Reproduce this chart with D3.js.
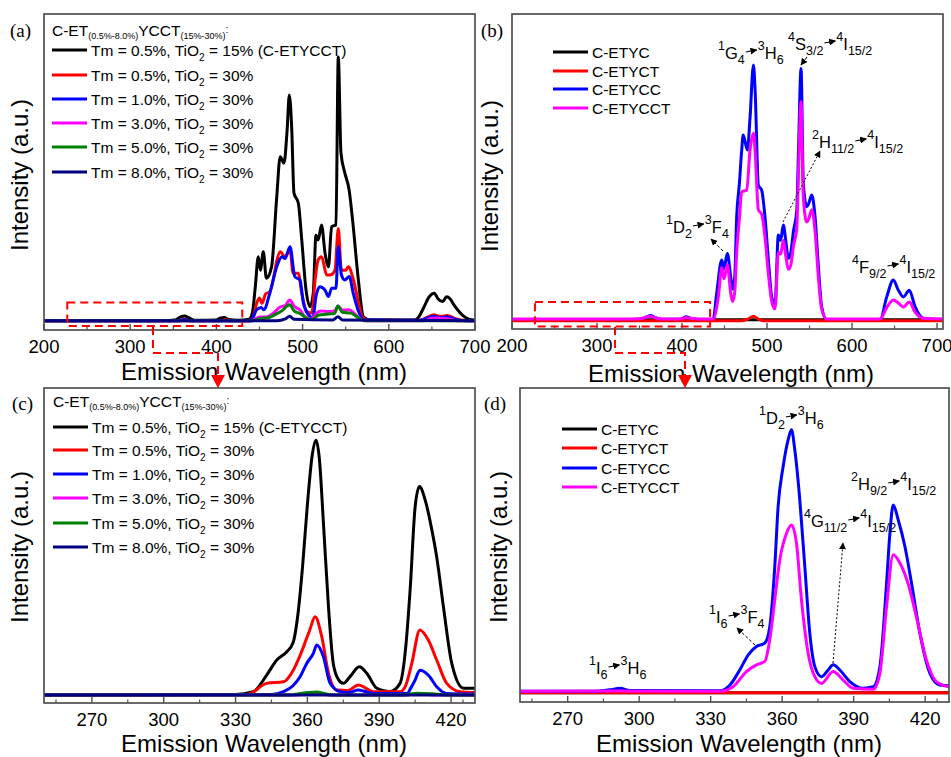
<!DOCTYPE html>
<html>
<head>
<meta charset="utf-8">
<script src="https://d3js.org/d3.v7.min.js"></script>
<title>Upconversion emission spectra</title>
<style>
  body { margin: 0; background: #fff; }
  svg text { font-family: "Liberation Sans", Arial, sans-serif; fill: #000; }
  .frame { fill: none; stroke: #505050; stroke-width: 1.7; }
  .tick-label { font-size: 18.5px; text-anchor: middle; }
  .axis-title { font-size: 24px; }
  .panel-id { font-family: "Liberation Serif", "Times New Roman", serif; font-size: 19px; }
  .leg { font-size: 15.5px; }
  .spec { fill: none; stroke-width: 3; stroke-linejoin: round; }
</style>
</head>
<body>
<svg width="951" height="757"></svg>
<script>
// ---- legend / category data
const tmValues = ['0.5%', '0.5%', '1.0%', '3.0%', '5.0%', '8.0%'];
const tioValues = ['15% (C-ETYCCT)', '30%', '30%', '30%', '30%', '30%'];
const tmColors = ['#000000', '#ff0000', '#0000ff', '#ff00ff', '#008000', '#000080'];
const sampleNames = ['C-ETYC', 'C-ETYCT', 'C-ETYCC', 'C-ETYCCT'];
const sampleColors = ['#000000', '#ff0000', '#0000ff', '#ff00ff'];
const ticksWide = [200, 300, 400, 500, 600, 700];
const minorWide = [250, 350, 450, 550, 650];
const ticksUv = [270, 300, 330, 360, 390, 420];
const minorUv = [255, 285, 315, 345, 375, 405, 425];

// ---- (a) spectra, [wavelength nm, intensity a.u.]
const aBlack = [[200,0],[330,0],[352,0.3],[358,1.2],[363,1.6],[368,1.0],[375,0.2],[400,0.3],[405,0.9],[409,1.1],[414,0.4],[425,0.2],[438,0.5],[442,3],[445,10.7],[448.6,20.9],[451,16.5],[454.4,22.5],[458,13.9],[464,17.6],[470,40.4],[474,53.5],[478.4,51.4],[482,62],[484.6,73.6],[487.3,63.2],[490,41.6],[495,38.4],[499,26.4],[504,10],[508.6,4.6],[512.4,9.1],[515.5,27.9],[518,26.3],[522,31.2],[526,22.1],[530,17.6],[533.7,30.7],[538.7,31.2],[541.4,86],[544.5,54.7],[549,48.2],[554,42.6],[558,32.8],[564.7,13.3],[570.5,1.3],[578,0.3],[630,0.3],[634,1],[640,4],[646,7.5],[652.8,9],[657,7.2],[662.5,6.3],[667,7.8],[671,7.2],[676,5],[686,1.7],[694,0.4],[700,0.2]];
const aRed = [[200,0],[355,0],[363,0.5],[370,0],[405,0],[410,0.4],[415,0],[440,0],[443,1.5],[446.7,5.7],[450,7.4],[453,5.7],[457,8.7],[462,9.5],[467,15],[470,19.5],[474,22.5],[479.6,20.9],[485.4,23],[489,15.5],[495,15.5],[499,9],[505,3],[510.6,2.5],[514.5,13.3],[518,19.8],[522,20.9],[528,14.9],[533,15],[537.6,16.5],[541.4,30.1],[545,16.5],[550,16.5],[553,17.6],[559,13.3],[565,5.7],[570,1],[578,0.2],[636,0.2],[645,1.2],[652,2],[660,1.4],[668,1.7],[678,0.6],[690,0.1],[700,0]];
const aBlue = [[200,0],[355,0],[363,0.4],[370,0],[440,0],[443,1.5],[446.7,3.6],[452,4.3],[455,3.6],[462,9],[470,17.6],[476,20.9],[479.6,20.3],[485.4,24.1],[491,14.4],[497,13.3],[501,5.7],[507,1.9],[512,1],[515.5,7.9],[520,11.1],[526,10],[530,7.9],[533.7,10.6],[538.7,10.6],[541.4,24.1],[545,15],[549,13.3],[554,14.4],[559,8.7],[565,3],[571,0.3],[636,0.2],[645,0.9],[652,1.5],[660,1.0],[668,1.3],[678,0.4],[690,0],[700,0]];
const aMagenta = [[200,0],[440,0],[446,0.8],[452,1.2],[458,1.2],[466,2.5],[474,4.5],[480,5],[485,6.8],[490,4.8],[497,3.5],[503,1.2],[510,0.6],[516,2.5],[522,3.2],[530,3],[537,3.2],[541,4.8],[546,3.5],[554,3.6],[560,2.4],[566,0.8],[572,0],[640,0],[652,0.9],[668,0.7],[680,0],[700,0]];
const aGreen = [[200,0],[442,0],[450,0.7],[460,1],[468,2],[476,3.3],[485,5.2],[490,3.3],[498,2.2],[505,0.8],[512,0.5],[518,1.8],[530,2.2],[537,2.4],[541,4.8],[546,2.8],[556,2.5],[562,1.5],[568,0.4],[575,0],[700,0]];
const aNavy = [[200,0],[470,0],[480,0.6],[485,1.5],[490,0.5],[535,0.3],[541,1.3],[546,0.3],[700,0]];

// ---- (b) spectra
const bBlack = [[200,0],[707,0]];
const bRed = [[200,-0.3],[470,-0.3],[478,0.3],[484,1.2],[490,0.2],[496,-0.3],[707,-0.3]];
const bBlue = [[200,0],[340,0],[352,0.2],[358,0.9],[363,1.4],[368,0.8],[375,0.2],[398,0.2],[405,1.0],[410,0.5],[420,0.1],[436.5,0],[440.8,8.7],[446.7,19.6],[449.4,16.8],[453.3,21.7],[457.3,14],[459.5,10],[462,14],[464.3,33.7],[467.5,44.6],[470.2,55.5],[472,60.4],[476.9,55.5],[480,66],[484,83.3],[486,75],[489.8,44],[493.7,42.4],[497.6,33.7],[501.6,19.6],[505.5,7.5],[509.4,4.8],[513.3,27.7],[516,26],[519.2,31],[522,26],[525.1,20.1],[528,22],[531,28.8],[535,35.9],[537,55.5],[540,82.2],[542.7,44.6],[546.7,37],[549,38],[552.6,40.8],[556.5,33.7],[560.4,17.4],[564.3,4.3],[570.2,0],[633,0],[640.8,7.5],[648.6,13],[654.5,9.7],[660.4,7.5],[667.4,9.7],[674.1,4.3],[683.9,0.5],[707,0]];
const bMagenta = [[200,0.3],[340,0.3],[352,0.4],[358,0.9],[363,1.2],[368,0.7],[375,0.3],[398,0.3],[405,0.8],[410,0.5],[420,0.3],[436.5,0.3],[442.7,7.5],[446.7,17],[449.4,13.4],[453.3,18],[457.3,8.7],[459.5,6],[462,9],[464.3,22],[467.5,33],[470.2,41.9],[476.1,42.4],[480,55.5],[484,61],[486,55],[489.8,36],[493.7,34.5],[497.6,27],[501.6,15],[505.5,6],[509.4,3.5],[513.3,22],[516,21.5],[519.2,26],[522,21],[525.1,16.5],[528,18],[531,24],[535,30],[537,48],[540,71.3],[542.7,40],[546.7,32],[549,33],[552.6,36],[556.5,29],[560.4,14],[564.3,3.5],[570.2,0.3],[633,0.3],[640.8,4],[648.6,6.5],[654.5,5.5],[660.4,4.2],[667.4,5.8],[674.1,2.5],[683.9,0.5],[707,0.3]];

// ---- (c) spectra (UV-violet zoom of a)
const cBlack = [[250,0],[330,0.2],[337.4,1.1],[343,6.5],[347.2,11.4],[351.4,14.1],[354,17],[356,26],[358,42],[360,62],[362,78],[363.6,83],[365,77],[366.7,56],[368.8,28.8],[370.8,10.3],[373,5],[375,3.8],[377.8,6],[381.7,9.2],[384.8,7.1],[389,2.2],[394.5,1.1],[398.7,3.8],[401,15],[402.9,34.2],[405,61.3],[406.8,67.9],[409.2,63.5],[412,53.7],[414,45],[416.8,28.8],[420.3,10.3],[425.2,2.2],[430,2.2]];
const cRed = [[250,0],[335,0.2],[343,3.8],[350,4.3],[354.1,8.1],[357,13],[361,21.2],[363.2,25.5],[366,19],[368.8,7.1],[372.3,1.6],[377,1.5],[381.3,3.3],[387.6,1.1],[398.7,1.1],[401,3],[403.6,10.3],[407,21.2],[410.5,17.9],[414,11.4],[418.2,3.8],[423.8,1.1],[430,0.8]];
const cBlue = [[250,0],[345,0.2],[350,1.1],[354,3],[357,6],[359.7,10.3],[362.5,13.6],[363.9,16.3],[366.7,12.5],[369.5,3.8],[373.6,1.1],[377,0.8],[381.3,1.6],[387.6,0.5],[401.8,0.5],[403,2],[405,4.9],[407,8.1],[410.5,6.5],[414,2.7],[418.2,0.5],[430,0.3]];
const cMagenta = [[250,0],[355,0],[363,0.5],[370,0],[400,0],[407,0.4],[414,0],[430,0]];
const cGreen = [[250,0],[352,0],[360,0.8],[364,1.0],[370,0],[400,0],[406,0.6],[412,0.4],[418,0],[430,0]];
const cNavy = [[250,0],[430,0]];

// ---- (d) spectra
const dBlack = [[250,0],[430,0]];
const dRed = [[250,0],[430,0]];
const dBlue = [[250,0.5],[280,0.5],[287.7,1],[292,1.5],[296.1,0.8],[333.9,0.7],[338.1,2.6],[342.2,7.5],[345.7,12.4],[349.2,15.2],[352.7,16.3],[354.8,21.7],[356.9,41.4],[358.3,61.1],[360.4,74.2],[362.5,83],[363.9,86.3],[365.3,79.7],[367.4,63.3],[369.5,41.4],[371.6,19.5],[373.7,8.6],[376.5,5.3],[379.3,7.5],[381.4,9.2],[384.2,7.5],[388.4,3.7],[394,1.5],[398.2,2],[401,8.6],[403.8,35.9],[405.2,52.3],[406.6,61.6],[408.7,56.7],[411.5,48],[414.3,35.9],[417.8,19.5],[422,6.4],[426.1,2.6],[430,2.3]];
const dMagenta = [[250,0.5],[290,0.6],[333.9,0.5],[339.4,2],[345,7],[349.2,9.2],[352.7,10.3],[354.8,17.4],[356.9,30.5],[359,43.6],[361.8,52.3],[363.9,55.1],[366,49.1],[368.1,30.5],[370.9,13],[373.7,5.3],[376.5,3.1],[381.4,7],[385.6,4.2],[389.8,1.5],[398.2,1.2],[401,6.4],[403.8,28.3],[406.6,45.3],[409.4,42.6],[412.8,35.9],[416.3,25],[420.5,10.8],[424.7,3.7],[430,2]];

// zoomed windows marked in (a) and (b): wavelength and intensity ranges
const zoomWinA = { x: [227, 430], y: [-1.7, 6] };
const zoomWinB = { x: [227, 433], y: [-2.2, 5.8] };

const svg = d3.select('svg');

// marker for the little transition arrows
const defs = svg.append('defs');
defs.append('marker')
    .attr('id', 'tri')
    .attr('viewBox', '0 0 10 10')
    .attr('refX', 9).attr('refY', 5)
    .attr('markerWidth', 7).attr('markerHeight', 7)
    .attr('markerUnits', 'userSpaceOnUse')
    .attr('orient', 'auto')
  .append('path').attr('d', 'M0,0L10,5L0,10z').attr('fill', '#000');

// builds one panel: frame, scales, ticks, curves
function panel(id, box, xDom, yDom, series, colors, major, minor) {
  const x = d3.scaleLinear().domain(xDom).range([box.left, box.right]);
  const y = d3.scaleLinear().domain(yDom).range([box.bottom, box.top]);
  const g = svg.append('g');

  defs.append('clipPath').attr('id', 'clip-' + id)
    .append('rect')
      .attr('x', box.left).attr('y', box.top)
      .attr('width', box.right - box.left).attr('height', box.bottom - box.top);

  const line = d3.line()
      .x(d => x(d[0]))
      .y(d => y(d[1]))
      .curve(d3.curveMonotoneX);

  g.append('g').attr('clip-path', `url(#clip-${id})`)
    .selectAll('path').data(series)
    .enter().append('path')
      .attr('class', 'spec')
      .attr('stroke', (d, i) => colors[i])
      .attr('d', line);

  // inward ticks on the bottom edge only
  g.selectAll('.major').data(major).enter().append('line')
      .attr('x1', d => x(d)).attr('x2', d => x(d))
      .attr('y1', box.bottom).attr('y2', box.bottom - 6)
      .attr('stroke', '#505050').attr('stroke-width', 1.4);
  g.selectAll('.minor').data(minor).enter().append('line')
      .attr('x1', d => x(d)).attr('x2', d => x(d))
      .attr('y1', box.bottom).attr('y2', box.bottom - 3.5)
      .attr('stroke', '#505050').attr('stroke-width', 1.2);
  g.selectAll('.tick-label').data(major).enter().append('text')
      .attr('class', 'tick-label')
      .attr('x', d => x(d))
      .attr('y', box.bottom + 23)
      .text(d => d);

  g.append('rect')
      .attr('class', 'frame')
      .attr('x', box.left).attr('y', box.top)
      .attr('width', box.right - box.left).attr('height', box.bottom - box.top);

  return { g, x, y };
}

function titles(xt, yt) {
  svg.append('text').attr('class', 'axis-title')
      .attr('x', xt[0]).attr('y', xt[1])
      .attr('text-anchor', 'middle')
      .text('Emission Wavelength (nm)');
  svg.append('text').attr('class', 'axis-title')
      .attr('transform', `translate(${yt[0]},${yt[1]}) rotate(-90)`)
      .attr('text-anchor', 'middle')
      .text('Intensity (a.u.)');
}

// sequence of normal / sup / sub text pieces, '>' means the small arrow
function label(x, y, parts) {
  let cx = x;
  parts.forEach(p => {
    if (p === '>') {
      svg.append('line')
          .attr('x1', cx + 1).attr('y1', y - 7)
          .attr('x2', cx + 12).attr('y2', y - 9)
          .attr('stroke', '#000').attr('stroke-width', 1.2)
          .attr('marker-end', 'url(#tri)');
      cx += 13;
      return;
    }
    const k = p[1];
    const el = svg.append('text')
        .attr('x', cx)
        .attr('y', y + (k === 'sup' ? -9 : k === 'sub' ? 5 : 0))
        .style('font-size', k ? '12.5px' : '16.5px')
        .text(p[0]);
    cx += el.node().getComputedTextLength();
  });
}

function pointer(x1, y1, x2, y2, dash) {
  svg.append('line')
      .attr('x1', x1).attr('y1', y1).attr('x2', x2).attr('y2', y2)
      .attr('stroke', '#000').attr('stroke-width', 1)
      .attr('stroke-dasharray', dash)
      .attr('marker-end', 'url(#tri)');
}

function tmLegend(x0, titleY, rows) {
  const t = svg.append('text').attr('class', 'leg').attr('x', x0).attr('y', titleY);
  t.append('tspan').text('C-ET');
  t.append('tspan').attr('dy', 3).style('font-size', '9px').text('(0.5%-8.0%)');
  t.append('tspan').attr('dy', -3).text('YCCT');
  t.append('tspan').attr('dy', 3).style('font-size', '9px').text('(15%-30%)');
  t.append('tspan').attr('dy', -6).style('font-size', '10px').text(':');
  rows.forEach((ry, i) => {
    svg.append('line')
        .attr('x1', x0).attr('x2', x0 + 35).attr('y1', ry).attr('y2', ry)
        .attr('stroke', tmColors[i]).attr('stroke-width', 3);
    const s = svg.append('text').attr('class', 'leg').attr('x', x0 + 39).attr('y', ry + 5.5);
    s.append('tspan').text(`Tm = ${tmValues[i]}, TiO`);
    s.append('tspan').attr('dy', 5).style('font-size', '10px').text('2');
    s.append('tspan').attr('dy', -5).text(` = ${tioValues[i]}`);
  });
}

function sampleLegend(x0, rows) {
  rows.forEach((ry, i) => {
    svg.append('line')
        .attr('x1', x0).attr('x2', x0 + 35).attr('y1', ry).attr('y2', ry)
        .attr('stroke', sampleColors[i]).attr('stroke-width', 3);
    svg.append('text').attr('class', 'leg')
        .attr('x', x0 + 39).attr('y', ry + 5.5)
        .text(sampleNames[i]);
  });
}

// ---- panels
const boxA = { left: 44, right: 475, top: 14, bottom: 330 };
const boxB = { left: 512, right: 943, top: 14, bottom: 329 };
const boxC = { left: 44, right: 475, top: 388, bottom: 703 };
const boxD = { left: 520, right: 949, top: 388, bottom: 702 };

const pa = panel('a', boxA, [200, 700], [-3, 100],
  [aBlack, aRed, aBlue, aMagenta, aGreen, aNavy], tmColors, ticksWide, minorWide);
const pb = panel('b', boxB, [200, 707], [-3, 100],
  [bBlack, bBlue, bRed, bMagenta], [sampleColors[0], sampleColors[2], sampleColors[1], sampleColors[3]],
  ticksWide, minorWide);
const pc = panel('c', boxC, [250, 430], [-2.6, 100],
  [cBlack, cRed, cBlue, cMagenta, cGreen, cNavy], tmColors, ticksUv, minorUv);
const pd = panel('d', boxD, [250, 430], [-3, 100],
  [dBlack, dRed, dBlue, dMagenta], sampleColors, ticksUv, minorUv);

titles([264, 380], [28, 175]);
titles([731, 382], [498, 176]);
titles([264, 752], [28, 547]);
titles([739, 752], [507, 547]);

[['(a)', 10, 37], ['(b)', 481, 37], ['(c)', 12, 410], ['(d)', 484, 410]].forEach(p => {
  svg.append('text').attr('class', 'panel-id').attr('x', p[1]).attr('y', p[2]).text(p[0]);
});

tmLegend(52, 36, [50, 75, 99, 123, 147, 172]);
tmLegend(53, 407, [427, 450, 474, 498, 523, 547]);
sampleLegend(553, [52, 71, 89, 108]);
sampleLegend(562, [429, 448, 468, 487]);

// ---- transition labels in (b)
label(718, 59, [['1', 'sup'], ['G'], ['4', 'sub'], '>', ['3', 'sup'], ['H'], ['6', 'sub']]);
label(788, 50, [['4', 'sup'], ['S'], ['3/2', 'sub'], '>', ['4', 'sup'], ['I'], ['15/2', 'sub']]);
label(812, 148, [['2', 'sup'], ['H'], ['11/2', 'sub'], '>', ['4', 'sup'], ['I'], ['15/2', 'sub']]);
label(666, 233, [['1', 'sup'], ['D'], ['2', 'sub'], '>', ['3', 'sup'], ['F'], ['4', 'sub']]);
label(852, 273, [['4', 'sup'], ['F'], ['9/2', 'sub'], '>', ['4', 'sup'], ['I'], ['15/2', 'sub']]);
pointer(807, 57, 801, 65, null);
pointer(783, 222, 820, 151, '2,2');
pointer(723, 251, 711, 239, '3,2');

// ---- transition labels in (d)
label(759, 424, [['1', 'sup'], ['D'], ['2', 'sub'], '>', ['3', 'sup'], ['H'], ['6', 'sub']]);
label(804, 527, [['4', 'sup'], ['G'], ['11/2', 'sub'], '>', ['4', 'sup'], ['I'], ['15/2', 'sub']]);
label(851, 490, [['2', 'sup'], ['H'], ['9/2', 'sub'], '>', ['4', 'sup'], ['I'], ['15/2', 'sub']]);
label(709, 623, [['1', 'sup'], ['I'], ['6', 'sub'], '>', ['3', 'sup'], ['F'], ['4', 'sub']]);
label(589, 674, [['1', 'sup'], ['I'], ['6', 'sub'], '>', ['3', 'sup'], ['H'], ['6', 'sub']]);
pointer(833, 663, 843, 543, '2,2');
pointer(755, 645, 737, 628, '3,2');

// ---- zoom boxes and red connectors
function zoomBox(p, win) {
  svg.append('rect')
      .attr('x', p.x(win.x[0])).attr('y', p.y(win.y[1]))
      .attr('width', p.x(win.x[1]) - p.x(win.x[0]))
      .attr('height', p.y(win.y[0]) - p.y(win.y[1]))
      .attr('fill', 'none').attr('stroke', '#ff0000')
      .attr('stroke-width', 2).attr('stroke-dasharray', '8,5');
}
zoomBox(pa, zoomWinA);
zoomBox(pb, zoomWinB);

function connector(xa, ya, xb, yMid, yTip) {
  svg.append('path')
      .attr('d', `M${xa},${ya}V${yMid}H${xb}V${yTip - 13}`)
      .attr('fill', 'none').attr('stroke', '#ff0000')
      .attr('stroke-width', 2).attr('stroke-dasharray', '8,5');
  svg.append('path')
      .attr('d', `M${xb - 7},${yTip - 13}L${xb + 7},${yTip - 13}L${xb},${yTip}Z`)
      .attr('fill', '#ff0000');
}
connector(153, 327, 218, 353, 388);
connector(615, 327, 685, 353, 388);
</script>
</body>
</html>
